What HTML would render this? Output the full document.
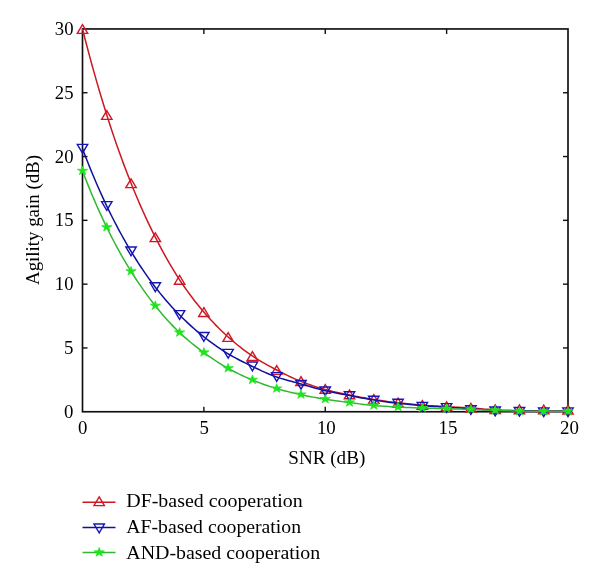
<!DOCTYPE html><html><head><meta charset="utf-8"><style>html,body{margin:0;padding:0;background:#fff;width:600px;height:585px;overflow:hidden}svg{display:block;will-change:transform}text{font-family:"Liberation Serif",serif;fill:#000}</style></head><body>
<svg width="600" height="585" viewBox="0 0 600 585">
<rect width="600" height="585" fill="#fff"/>
<rect x="82.5" y="28.95" width="485.5" height="382.8" fill="none" stroke="#0e0e0e" stroke-width="1.65"/>
<line x1="203.88" y1="411.75" x2="203.88" y2="406.75" stroke="#0e0e0e" stroke-width="1.4"/>
<line x1="203.88" y1="28.95" x2="203.88" y2="33.95" stroke="#0e0e0e" stroke-width="1.4"/>
<line x1="325.25" y1="411.75" x2="325.25" y2="406.75" stroke="#0e0e0e" stroke-width="1.4"/>
<line x1="325.25" y1="28.95" x2="325.25" y2="33.95" stroke="#0e0e0e" stroke-width="1.4"/>
<line x1="446.62" y1="411.75" x2="446.62" y2="406.75" stroke="#0e0e0e" stroke-width="1.4"/>
<line x1="446.62" y1="28.95" x2="446.62" y2="33.95" stroke="#0e0e0e" stroke-width="1.4"/>
<line x1="82.5" y1="347.95" x2="87.5" y2="347.95" stroke="#0e0e0e" stroke-width="1.4"/>
<line x1="568.0" y1="347.95" x2="563.0" y2="347.95" stroke="#0e0e0e" stroke-width="1.4"/>
<line x1="82.5" y1="284.15" x2="87.5" y2="284.15" stroke="#0e0e0e" stroke-width="1.4"/>
<line x1="568.0" y1="284.15" x2="563.0" y2="284.15" stroke="#0e0e0e" stroke-width="1.4"/>
<line x1="82.5" y1="220.35" x2="87.5" y2="220.35" stroke="#0e0e0e" stroke-width="1.4"/>
<line x1="568.0" y1="220.35" x2="563.0" y2="220.35" stroke="#0e0e0e" stroke-width="1.4"/>
<line x1="82.5" y1="156.55" x2="87.5" y2="156.55" stroke="#0e0e0e" stroke-width="1.4"/>
<line x1="568.0" y1="156.55" x2="563.0" y2="156.55" stroke="#0e0e0e" stroke-width="1.4"/>
<line x1="82.5" y1="92.75" x2="87.5" y2="92.75" stroke="#0e0e0e" stroke-width="1.4"/>
<line x1="568.0" y1="92.75" x2="563.0" y2="92.75" stroke="#0e0e0e" stroke-width="1.4"/>
<text x="73.5" y="417.85" font-size="18" text-anchor="end" textLength="9.4" lengthAdjust="spacingAndGlyphs">0</text>
<text x="73.5" y="354.05" font-size="18" text-anchor="end" textLength="9.4" lengthAdjust="spacingAndGlyphs">5</text>
<text x="73.5" y="290.25" font-size="18" text-anchor="end" textLength="18.7" lengthAdjust="spacingAndGlyphs">10</text>
<text x="73.5" y="226.45" font-size="18" text-anchor="end" textLength="18.7" lengthAdjust="spacingAndGlyphs">15</text>
<text x="73.5" y="162.65" font-size="18" text-anchor="end" textLength="18.7" lengthAdjust="spacingAndGlyphs">20</text>
<text x="73.5" y="98.85" font-size="18" text-anchor="end" textLength="18.7" lengthAdjust="spacingAndGlyphs">25</text>
<text x="73.5" y="35.05" font-size="18" text-anchor="end" textLength="18.7" lengthAdjust="spacingAndGlyphs">30</text>
<text x="82.70" y="434" font-size="18" text-anchor="middle" textLength="9.4" lengthAdjust="spacingAndGlyphs">0</text>
<text x="204.28" y="434" font-size="18" text-anchor="middle" textLength="9.4" lengthAdjust="spacingAndGlyphs">5</text>
<text x="326.35" y="434" font-size="18" text-anchor="middle" textLength="18.9" lengthAdjust="spacingAndGlyphs">10</text>
<text x="448.02" y="434" font-size="18" text-anchor="middle" textLength="18.9" lengthAdjust="spacingAndGlyphs">15</text>
<text x="569.50" y="434" font-size="18" text-anchor="middle" textLength="18.9" lengthAdjust="spacingAndGlyphs">20</text>
<text x="326.8" y="464" font-size="18" text-anchor="middle" textLength="77" lengthAdjust="spacingAndGlyphs">SNR (dB)</text>
<text transform="translate(38.6,220.0) rotate(-90)" x="0" y="0" font-size="18" text-anchor="middle" textLength="130" lengthAdjust="spacingAndGlyphs">Agility gain (dB)</text>
<polyline points="82.50,28.95 84.93,38.45 87.36,47.74 89.78,56.83 92.21,65.71 94.64,74.39 97.06,82.88 99.49,91.18 101.92,99.29 104.35,107.21 106.78,114.95 109.20,122.52 111.63,129.91 114.06,137.13 116.48,144.18 118.91,151.07 121.34,157.80 123.77,164.38 126.19,170.80 128.62,177.08 131.05,183.22 133.48,189.21 135.91,195.06 138.33,200.77 140.76,206.34 143.19,211.79 145.62,217.11 148.04,222.31 150.47,227.38 152.90,232.34 155.32,237.19 157.75,241.94 160.18,246.58 162.61,251.12 165.03,255.56 167.46,259.88 169.89,264.10 172.32,268.20 174.75,272.18 177.17,276.06 179.60,279.81 182.03,283.46 184.46,286.99 186.88,290.43 189.31,293.78 191.74,297.03 194.16,300.20 196.59,303.29 199.02,306.30 201.45,309.23 203.88,312.09 206.30,314.89 208.73,317.61 211.16,320.26 213.59,322.84 216.01,325.36 218.44,327.81 220.87,330.19 223.30,332.52 225.72,334.78 228.15,336.98 230.58,339.12 233.00,341.21 235.43,343.25 237.86,345.24 240.29,347.17 242.71,349.04 245.14,350.86 247.57,352.63 250.00,354.33 252.43,355.99 254.85,357.58 257.28,359.12 259.71,360.60 262.13,362.04 264.56,363.45 266.99,364.81 269.42,366.15 271.85,367.46 274.27,368.75 276.70,370.02 279.13,371.28 281.55,372.52 283.98,373.74 286.41,374.94 288.84,376.10 291.26,377.23 293.69,378.32 296.12,379.38 298.55,380.40 300.98,381.38 303.40,382.33 305.83,383.25 308.26,384.14 310.69,385.01 313.11,385.84 315.54,386.65 317.97,387.42 320.40,388.16 322.82,388.87 325.25,389.55 327.68,390.19 330.10,390.80 332.53,391.39 334.96,391.95 337.39,392.49 339.81,393.01 342.24,393.53 344.67,394.04 347.10,394.54 349.52,395.03 351.95,395.53 354.38,396.01 356.81,396.49 359.24,396.96 361.66,397.41 364.09,397.85 366.52,398.29 368.95,398.70 371.37,399.11 373.80,399.50 376.23,399.88 378.65,400.25 381.08,400.61 383.51,400.96 385.94,401.30 388.37,401.63 390.79,401.94 393.22,402.25 395.65,402.54 398.07,402.82 400.50,403.09 402.93,403.35 405.36,403.60 407.78,403.84 410.21,404.08 412.64,404.30 415.07,404.52 417.50,404.73 419.92,404.93 422.35,405.11 424.78,405.29 427.20,405.46 429.63,405.63 432.06,405.78 434.49,405.93 436.92,406.08 439.34,406.22 441.77,406.37 444.20,406.51 446.62,406.65 449.05,406.78 451.48,406.92 453.91,407.06 456.33,407.19 458.76,407.32 461.19,407.44 463.62,407.57 466.05,407.69 468.47,407.81 470.90,407.92 473.33,408.13 475.75,408.33 478.18,408.53 480.61,408.74 483.04,408.94 485.47,409.15 487.89,409.35 490.32,409.56 492.75,409.76 495.18,409.96 497.60,410.03 500.03,410.09 502.46,410.15 504.88,410.22 507.31,410.28 509.74,410.35 512.17,410.41 514.60,410.47 517.02,410.54 519.45,410.60 521.88,410.64 524.31,410.68 526.73,410.72 529.16,410.75 531.59,410.79 534.02,410.83 536.44,410.87 538.87,410.91 541.30,410.95 543.73,410.98 546.15,411.00 548.58,411.01 551.01,411.02 553.43,411.04 555.86,411.05 558.29,411.06 560.72,411.07 563.14,411.09 565.57,411.10 568.00,411.11" fill="none" stroke="#cc1820" stroke-width="1.5" stroke-linejoin="round"/>
<path d="M82.50,24.55 L87.70,33.35 L77.30,33.35 Z" fill="none" stroke="#d21626" stroke-width="1.4" stroke-linejoin="miter"/>
<path d="M106.78,110.55 L111.98,119.35 L101.58,119.35 Z" fill="none" stroke="#d21626" stroke-width="1.4" stroke-linejoin="miter"/>
<path d="M131.05,178.82 L136.25,187.62 L125.85,187.62 Z" fill="none" stroke="#d21626" stroke-width="1.4" stroke-linejoin="miter"/>
<path d="M155.32,232.79 L160.52,241.59 L150.12,241.59 Z" fill="none" stroke="#d21626" stroke-width="1.4" stroke-linejoin="miter"/>
<path d="M179.60,275.41 L184.80,284.21 L174.40,284.21 Z" fill="none" stroke="#d21626" stroke-width="1.4" stroke-linejoin="miter"/>
<path d="M203.88,307.69 L209.07,316.49 L198.68,316.49 Z" fill="none" stroke="#d21626" stroke-width="1.4" stroke-linejoin="miter"/>
<path d="M228.15,332.58 L233.35,341.38 L222.95,341.38 Z" fill="none" stroke="#d21626" stroke-width="1.4" stroke-linejoin="miter"/>
<path d="M252.43,351.59 L257.62,360.39 L247.23,360.39 Z" fill="none" stroke="#d21626" stroke-width="1.4" stroke-linejoin="miter"/>
<path d="M276.70,365.62 L281.90,374.42 L271.50,374.42 Z" fill="none" stroke="#d21626" stroke-width="1.4" stroke-linejoin="miter"/>
<path d="M300.98,376.73 L306.18,385.53 L295.78,385.53 Z" fill="none" stroke="#d21626" stroke-width="1.4" stroke-linejoin="miter"/>
<path d="M325.25,384.51 L330.45,393.31 L320.05,393.31 Z" fill="none" stroke="#d21626" stroke-width="1.4" stroke-linejoin="miter"/>
<path d="M349.52,390.00 L354.72,398.80 L344.32,398.80 Z" fill="none" stroke="#d21626" stroke-width="1.4" stroke-linejoin="miter"/>
<path d="M373.80,394.59 L379.00,403.39 L368.60,403.39 Z" fill="none" stroke="#d21626" stroke-width="1.4" stroke-linejoin="miter"/>
<path d="M398.07,398.16 L403.27,406.96 L392.88,406.96 Z" fill="none" stroke="#d21626" stroke-width="1.4" stroke-linejoin="miter"/>
<path d="M422.35,400.59 L427.55,409.39 L417.15,409.39 Z" fill="none" stroke="#d21626" stroke-width="1.4" stroke-linejoin="miter"/>
<path d="M446.62,401.86 L451.82,410.66 L441.43,410.66 Z" fill="none" stroke="#d21626" stroke-width="1.4" stroke-linejoin="miter"/>
<path d="M470.90,403.27 L476.10,412.07 L465.70,412.07 Z" fill="none" stroke="#d21626" stroke-width="1.4" stroke-linejoin="miter"/>
<path d="M495.18,404.80 L500.38,413.60 L489.98,413.60 Z" fill="none" stroke="#d21626" stroke-width="1.4" stroke-linejoin="miter"/>
<path d="M519.45,404.93 L524.65,413.73 L514.25,413.73 Z" fill="none" stroke="#d21626" stroke-width="1.4" stroke-linejoin="miter"/>
<path d="M543.73,405.05 L548.93,413.85 L538.52,413.85 Z" fill="none" stroke="#d21626" stroke-width="1.4" stroke-linejoin="miter"/>
<path d="M568.00,405.18 L573.20,413.98 L562.80,413.98 Z" fill="none" stroke="#d21626" stroke-width="1.4" stroke-linejoin="miter"/>
<polyline points="82.50,148.77 84.93,155.11 87.36,161.32 89.78,167.38 92.21,173.30 94.64,179.08 97.06,184.73 99.49,190.25 101.92,195.65 104.35,200.91 106.78,206.06 109.20,211.08 111.63,215.99 114.06,220.78 116.48,225.46 118.91,230.03 121.34,234.50 123.77,238.86 126.19,243.12 128.62,247.29 131.05,251.36 133.48,255.34 135.91,259.23 138.33,263.04 140.76,266.75 143.19,270.38 145.62,273.92 148.04,277.38 150.47,280.74 152.90,284.02 155.32,287.21 157.75,290.32 160.18,293.35 162.61,296.30 165.03,299.18 167.46,301.98 169.89,304.72 172.32,307.39 174.75,310.00 177.17,312.54 179.60,315.03 182.03,317.46 184.46,319.83 186.88,322.15 189.31,324.41 191.74,326.61 194.16,328.76 196.59,330.86 199.02,332.91 201.45,334.90 203.88,336.85 206.30,338.75 208.73,340.61 211.16,342.42 213.59,344.19 216.01,345.92 218.44,347.60 220.87,349.23 223.30,350.81 225.72,352.34 228.15,353.82 230.58,355.25 233.00,356.62 235.43,357.95 237.86,359.24 240.29,360.50 242.71,361.72 245.14,362.93 247.57,364.12 250.00,365.29 252.43,366.45 254.85,367.61 257.28,368.78 259.71,369.93 262.13,371.06 264.56,372.17 266.99,373.24 269.42,374.27 271.85,375.25 274.27,376.17 276.70,377.04 279.13,377.85 281.55,378.61 283.98,379.32 286.41,380.00 288.84,380.66 291.26,381.31 293.69,381.95 296.12,382.60 298.55,383.26 300.98,383.93 303.40,384.63 305.83,385.34 308.26,386.06 310.69,386.77 313.11,387.48 315.54,388.17 317.97,388.84 320.40,389.49 322.82,390.11 325.25,390.70 327.68,391.25 330.10,391.77 332.53,392.28 334.96,392.76 337.39,393.23 339.81,393.70 342.24,394.16 344.67,394.62 347.10,395.08 349.52,395.54 351.95,396.02 354.38,396.49 356.81,396.96 359.24,397.43 361.66,397.89 364.09,398.34 366.52,398.78 368.95,399.21 371.37,399.62 373.80,400.01 376.23,400.39 378.65,400.76 381.08,401.12 383.51,401.47 385.94,401.81 388.37,402.14 390.79,402.45 393.22,402.76 395.65,403.05 398.07,403.33 400.50,403.60 402.93,403.86 405.36,404.11 407.78,404.35 410.21,404.59 412.64,404.81 415.07,405.03 417.50,405.24 419.92,405.44 422.35,405.63 424.78,405.81 427.20,405.98 429.63,406.15 432.06,406.31 434.49,406.47 436.92,406.61 439.34,406.76 441.77,406.90 444.20,407.03 446.62,407.16 449.05,407.34 451.48,407.51 453.91,407.69 456.33,407.87 458.76,408.05 461.19,408.23 463.62,408.41 466.05,408.59 468.47,408.76 470.90,408.94 473.33,409.10 475.75,409.25 478.18,409.40 480.61,409.56 483.04,409.71 485.47,409.86 487.89,410.01 490.32,410.17 492.75,410.32 495.18,410.47 497.60,410.53 500.03,410.58 502.46,410.63 504.88,410.68 507.31,410.73 509.74,410.78 512.17,410.83 514.60,410.88 517.02,410.93 519.45,410.98 521.88,411.01 524.31,411.04 526.73,411.06 529.16,411.09 531.59,411.11 534.02,411.14 536.44,411.16 538.87,411.19 541.30,411.21 543.73,411.24 546.15,411.25 548.58,411.27 551.01,411.28 553.43,411.29 555.86,411.30 558.29,411.32 560.72,411.33 563.14,411.34 565.57,411.35 568.00,411.37" fill="none" stroke="#10109a" stroke-width="1.5" stroke-linejoin="round"/>
<path d="M82.50,153.17 L87.70,144.37 L77.30,144.37 Z" fill="none" stroke="#1414b8" stroke-width="1.4" stroke-linejoin="miter"/>
<path d="M106.78,210.46 L111.98,201.66 L101.58,201.66 Z" fill="none" stroke="#1414b8" stroke-width="1.4" stroke-linejoin="miter"/>
<path d="M131.05,255.76 L136.25,246.96 L125.85,246.96 Z" fill="none" stroke="#1414b8" stroke-width="1.4" stroke-linejoin="miter"/>
<path d="M155.32,291.61 L160.52,282.81 L150.12,282.81 Z" fill="none" stroke="#1414b8" stroke-width="1.4" stroke-linejoin="miter"/>
<path d="M179.60,319.43 L184.80,310.63 L174.40,310.63 Z" fill="none" stroke="#1414b8" stroke-width="1.4" stroke-linejoin="miter"/>
<path d="M203.88,341.25 L209.07,332.45 L198.68,332.45 Z" fill="none" stroke="#1414b8" stroke-width="1.4" stroke-linejoin="miter"/>
<path d="M228.15,358.22 L233.35,349.42 L222.95,349.42 Z" fill="none" stroke="#1414b8" stroke-width="1.4" stroke-linejoin="miter"/>
<path d="M252.43,370.85 L257.62,362.05 L247.23,362.05 Z" fill="none" stroke="#1414b8" stroke-width="1.4" stroke-linejoin="miter"/>
<path d="M276.70,381.44 L281.90,372.64 L271.50,372.64 Z" fill="none" stroke="#1414b8" stroke-width="1.4" stroke-linejoin="miter"/>
<path d="M300.98,389.23 L306.18,380.43 L295.78,380.43 Z" fill="none" stroke="#1414b8" stroke-width="1.4" stroke-linejoin="miter"/>
<path d="M325.25,395.73 L330.45,386.93 L320.05,386.93 Z" fill="none" stroke="#1414b8" stroke-width="1.4" stroke-linejoin="miter"/>
<path d="M349.52,400.58 L354.72,391.78 L344.32,391.78 Z" fill="none" stroke="#1414b8" stroke-width="1.4" stroke-linejoin="miter"/>
<path d="M373.80,405.05 L379.00,396.25 L368.60,396.25 Z" fill="none" stroke="#1414b8" stroke-width="1.4" stroke-linejoin="miter"/>
<path d="M398.07,408.11 L403.27,399.31 L392.88,399.31 Z" fill="none" stroke="#1414b8" stroke-width="1.4" stroke-linejoin="miter"/>
<path d="M422.35,411.17 L427.55,402.37 L417.15,402.37 Z" fill="none" stroke="#1414b8" stroke-width="1.4" stroke-linejoin="miter"/>
<path d="M446.62,412.45 L451.82,403.65 L441.43,403.65 Z" fill="none" stroke="#1414b8" stroke-width="1.4" stroke-linejoin="miter"/>
<path d="M470.90,414.49 L476.10,405.69 L465.70,405.69 Z" fill="none" stroke="#1414b8" stroke-width="1.4" stroke-linejoin="miter"/>
<path d="M495.18,415.77 L500.38,406.97 L489.98,406.97 Z" fill="none" stroke="#1414b8" stroke-width="1.4" stroke-linejoin="miter"/>
<path d="M519.45,416.15 L524.65,407.35 L514.25,407.35 Z" fill="none" stroke="#1414b8" stroke-width="1.4" stroke-linejoin="miter"/>
<path d="M543.73,416.66 L548.93,407.86 L538.52,407.86 Z" fill="none" stroke="#1414b8" stroke-width="1.4" stroke-linejoin="miter"/>
<path d="M568.00,416.66 L573.20,407.86 L562.80,407.86 Z" fill="none" stroke="#1414b8" stroke-width="1.4" stroke-linejoin="miter"/>
<polyline points="82.50,170.97 84.93,177.25 87.36,183.38 89.78,189.36 92.21,195.20 94.64,200.89 97.06,206.45 99.49,211.88 101.92,217.17 104.35,222.33 106.78,227.37 109.20,232.28 111.63,237.07 114.06,241.74 116.48,246.29 118.91,250.73 121.34,255.06 123.77,259.29 126.19,263.42 128.62,267.45 131.05,271.39 133.48,275.23 135.91,278.98 138.33,282.64 140.76,286.20 143.19,289.68 145.62,293.08 148.04,296.39 150.47,299.62 152.90,302.77 155.32,305.84 157.75,308.84 160.18,311.78 162.61,314.65 165.03,317.44 167.46,320.17 169.89,322.82 172.32,325.39 174.75,327.88 177.17,330.30 179.60,332.64 182.03,334.90 184.46,337.08 186.88,339.19 189.31,341.24 191.74,343.23 194.16,345.17 196.59,347.07 199.02,348.93 201.45,350.75 203.88,352.54 206.30,354.31 208.73,356.04 211.16,357.73 213.59,359.38 216.01,361.00 218.44,362.57 220.87,364.09 223.30,365.56 225.72,366.99 228.15,368.37 230.58,369.69 233.00,370.98 235.43,372.23 237.86,373.43 240.29,374.60 242.71,375.74 245.14,376.85 247.57,377.92 250.00,378.96 252.43,379.98 254.85,380.97 257.28,381.94 259.71,382.88 262.13,383.79 264.56,384.68 266.99,385.54 269.42,386.36 271.85,387.16 274.27,387.92 276.70,388.65 279.13,389.35 281.55,390.02 283.98,390.67 286.41,391.29 288.84,391.89 291.26,392.47 293.69,393.03 296.12,393.58 298.55,394.12 300.98,394.65 303.40,395.17 305.83,395.68 308.26,396.17 310.69,396.65 313.11,397.12 315.54,397.57 317.97,398.01 320.40,398.44 322.82,398.85 325.25,399.25 327.68,399.62 330.10,399.98 332.53,400.33 334.96,400.66 337.39,400.99 339.81,401.31 342.24,401.62 344.67,401.94 347.10,402.25 349.52,402.56 351.95,402.88 354.38,403.21 356.81,403.54 359.24,403.87 361.66,404.19 364.09,404.49 366.52,404.78 368.95,405.04 371.37,405.28 373.80,405.50 376.23,405.69 378.65,405.88 381.08,406.05 383.51,406.21 385.94,406.36 388.37,406.50 390.79,406.64 393.22,406.78 395.65,406.90 398.07,407.03 400.50,407.15 402.93,407.27 405.36,407.38 407.78,407.49 410.21,407.59 412.64,407.69 415.07,407.78 417.50,407.88 419.92,407.96 422.35,408.05 424.78,408.11 427.20,408.18 429.63,408.24 432.06,408.30 434.49,408.37 436.92,408.43 439.34,408.50 441.77,408.56 444.20,408.62 446.62,408.69 449.05,408.75 451.48,408.82 453.91,408.88 456.33,408.94 458.76,409.01 461.19,409.07 463.62,409.13 466.05,409.20 468.47,409.26 470.90,409.33 473.33,409.44 475.75,409.56 478.18,409.67 480.61,409.78 483.04,409.90 485.47,410.01 487.89,410.13 490.32,410.24 492.75,410.36 495.18,410.47 497.60,410.54 500.03,410.60 502.46,410.67 504.88,410.73 507.31,410.79 509.74,410.86 512.17,410.92 514.60,410.98 517.02,411.05 519.45,411.11 521.88,411.14 524.31,411.16 526.73,411.19 529.16,411.21 531.59,411.24 534.02,411.27 536.44,411.29 538.87,411.32 541.30,411.34 543.73,411.37 546.15,411.37 548.58,411.37 551.01,411.37 553.43,411.37 555.86,411.37 558.29,411.37 560.72,411.37 563.14,411.37 565.57,411.37 568.00,411.37" fill="none" stroke="#30b830" stroke-width="1.5" stroke-linejoin="round"/>
<polygon points="82.50,165.97 83.73,169.27 87.68,169.29 84.50,171.34 85.70,174.65 82.50,172.62 79.30,174.65 80.50,171.34 77.32,169.29 81.27,169.27" fill="#1ee41e" stroke="#1ee41e" stroke-width="0.7" stroke-linejoin="miter"/>
<polygon points="106.78,222.37 108.01,225.67 111.96,225.69 108.77,227.74 109.98,231.05 106.78,229.01 103.57,231.05 104.78,227.74 101.59,225.69 105.54,225.67" fill="#1ee41e" stroke="#1ee41e" stroke-width="0.7" stroke-linejoin="miter"/>
<polygon points="131.05,266.39 132.28,269.70 136.23,269.71 133.05,271.76 134.25,275.07 131.05,273.04 127.85,275.07 129.05,271.76 125.87,269.71 129.82,269.70" fill="#1ee41e" stroke="#1ee41e" stroke-width="0.7" stroke-linejoin="miter"/>
<polygon points="155.32,300.85 156.56,304.15 160.51,304.16 157.32,306.21 158.53,309.52 155.32,307.49 152.12,309.52 153.33,306.21 150.14,304.16 154.09,304.15" fill="#1ee41e" stroke="#1ee41e" stroke-width="0.7" stroke-linejoin="miter"/>
<polygon points="179.60,327.64 180.83,330.94 184.78,330.96 181.60,333.01 182.80,336.32 179.60,334.28 176.40,336.32 177.60,333.01 174.42,330.96 178.37,330.94" fill="#1ee41e" stroke="#1ee41e" stroke-width="0.7" stroke-linejoin="miter"/>
<polygon points="203.88,347.55 205.11,350.85 209.06,350.86 205.87,352.91 207.08,356.22 203.88,354.19 200.67,356.22 201.88,352.91 198.69,350.86 202.64,350.85" fill="#1ee41e" stroke="#1ee41e" stroke-width="0.7" stroke-linejoin="miter"/>
<polygon points="228.15,363.37 229.38,366.67 233.33,366.68 230.15,368.74 231.35,372.05 228.15,370.01 224.95,372.05 226.15,368.74 222.97,366.68 226.92,366.67" fill="#1ee41e" stroke="#1ee41e" stroke-width="0.7" stroke-linejoin="miter"/>
<polygon points="252.43,374.98 253.66,378.28 257.61,378.30 254.42,380.35 255.63,383.66 252.43,381.62 249.22,383.66 250.43,380.35 247.24,378.30 251.19,378.28" fill="#1ee41e" stroke="#1ee41e" stroke-width="0.7" stroke-linejoin="miter"/>
<polygon points="276.70,383.66 277.93,386.96 281.88,386.97 278.70,389.02 279.90,392.33 276.70,390.30 273.50,392.33 274.70,389.02 271.52,386.97 275.47,386.96" fill="#1ee41e" stroke="#1ee41e" stroke-width="0.7" stroke-linejoin="miter"/>
<polygon points="300.98,389.66 302.21,392.96 306.16,392.97 302.97,395.02 304.18,398.33 300.98,396.30 297.77,398.33 298.98,395.02 295.79,392.97 299.74,392.96" fill="#1ee41e" stroke="#1ee41e" stroke-width="0.7" stroke-linejoin="miter"/>
<polygon points="325.25,394.25 326.48,397.55 330.43,397.56 327.25,399.62 328.45,402.93 325.25,400.89 322.05,402.93 323.25,399.62 320.07,397.56 324.02,397.55" fill="#1ee41e" stroke="#1ee41e" stroke-width="0.7" stroke-linejoin="miter"/>
<polygon points="349.52,397.57 350.76,400.87 354.71,400.88 351.52,402.93 352.73,406.24 349.52,404.21 346.32,406.24 347.53,402.93 344.34,400.88 348.29,400.87" fill="#1ee41e" stroke="#1ee41e" stroke-width="0.7" stroke-linejoin="miter"/>
<polygon points="373.80,400.50 375.03,403.80 378.98,403.82 375.80,405.87 377.00,409.18 373.80,407.14 370.60,409.18 371.80,405.87 368.62,403.82 372.57,403.80" fill="#1ee41e" stroke="#1ee41e" stroke-width="0.7" stroke-linejoin="miter"/>
<polygon points="398.07,402.03 399.31,405.33 403.26,405.35 400.07,407.40 401.28,410.71 398.07,408.68 394.87,410.71 396.08,407.40 392.89,405.35 396.84,405.33" fill="#1ee41e" stroke="#1ee41e" stroke-width="0.7" stroke-linejoin="miter"/>
<polygon points="422.35,403.05 423.58,406.36 427.53,406.37 424.35,408.42 425.55,411.73 422.35,409.70 419.15,411.73 420.35,408.42 417.17,406.37 421.12,406.36" fill="#1ee41e" stroke="#1ee41e" stroke-width="0.7" stroke-linejoin="miter"/>
<polygon points="446.62,403.69 447.86,406.99 451.81,407.01 448.62,409.06 449.83,412.37 446.62,410.33 443.42,412.37 444.63,409.06 441.44,407.01 445.39,406.99" fill="#1ee41e" stroke="#1ee41e" stroke-width="0.7" stroke-linejoin="miter"/>
<polygon points="470.90,404.33 472.13,407.63 476.08,407.64 472.90,409.70 474.10,413.01 470.90,410.97 467.70,413.01 468.90,409.70 465.72,407.64 469.67,407.63" fill="#1ee41e" stroke="#1ee41e" stroke-width="0.7" stroke-linejoin="miter"/>
<polygon points="495.18,405.48 496.41,408.78 500.36,408.79 497.17,410.84 498.38,414.15 495.18,412.12 491.97,414.15 493.18,410.84 489.99,408.79 493.94,408.78" fill="#1ee41e" stroke="#1ee41e" stroke-width="0.7" stroke-linejoin="miter"/>
<polygon points="519.45,406.37 520.68,409.67 524.63,409.69 521.45,411.74 522.65,415.05 519.45,413.01 516.25,415.05 517.45,411.74 514.27,409.69 518.22,409.67" fill="#1ee41e" stroke="#1ee41e" stroke-width="0.7" stroke-linejoin="miter"/>
<polygon points="543.73,406.50 544.96,409.80 548.91,409.81 545.72,411.87 546.93,415.17 543.73,413.14 540.52,415.17 541.73,411.87 538.54,409.81 542.49,409.80" fill="#1ee41e" stroke="#1ee41e" stroke-width="0.7" stroke-linejoin="miter"/>
<polygon points="568.00,406.50 569.23,409.80 573.18,409.81 570.00,411.87 571.20,415.17 568.00,413.14 564.80,415.17 566.00,411.87 562.82,409.81 566.77,409.80" fill="#1ee41e" stroke="#1ee41e" stroke-width="0.7" stroke-linejoin="miter"/>
<line x1="82.5" y1="502.3" x2="115.5" y2="502.3" stroke="#cc1820" stroke-width="1.5"/>
<path d="M99.20,496.80 L104.40,505.60 L94.00,505.60 Z" fill="none" stroke="#d21626" stroke-width="1.4" stroke-linejoin="miter"/>
<text x="126.3" y="507.20" font-size="18" textLength="176.3" lengthAdjust="spacingAndGlyphs">DF-based cooperation</text>
<line x1="82.5" y1="527.5" x2="115.5" y2="527.5" stroke="#10109a" stroke-width="1.5"/>
<path d="M99.20,532.80 L104.40,524.00 L94.00,524.00 Z" fill="none" stroke="#1414b8" stroke-width="1.4" stroke-linejoin="miter"/>
<text x="126.3" y="533.00" font-size="18" textLength="174.7" lengthAdjust="spacingAndGlyphs">AF-based cooperation</text>
<line x1="82.5" y1="552.6" x2="115.5" y2="552.6" stroke="#30b830" stroke-width="1.5"/>
<polygon points="99.20,547.50 100.43,550.81 104.38,550.82 101.20,552.87 102.40,556.18 99.20,554.15 96.00,556.18 97.20,552.87 94.02,550.82 97.97,550.81" fill="#1ee41e" stroke="#1ee41e" stroke-width="0.7" stroke-linejoin="miter"/>
<text x="126.3" y="558.80" font-size="18" textLength="193.9" lengthAdjust="spacingAndGlyphs">AND-based cooperation</text>
</svg></body></html>
